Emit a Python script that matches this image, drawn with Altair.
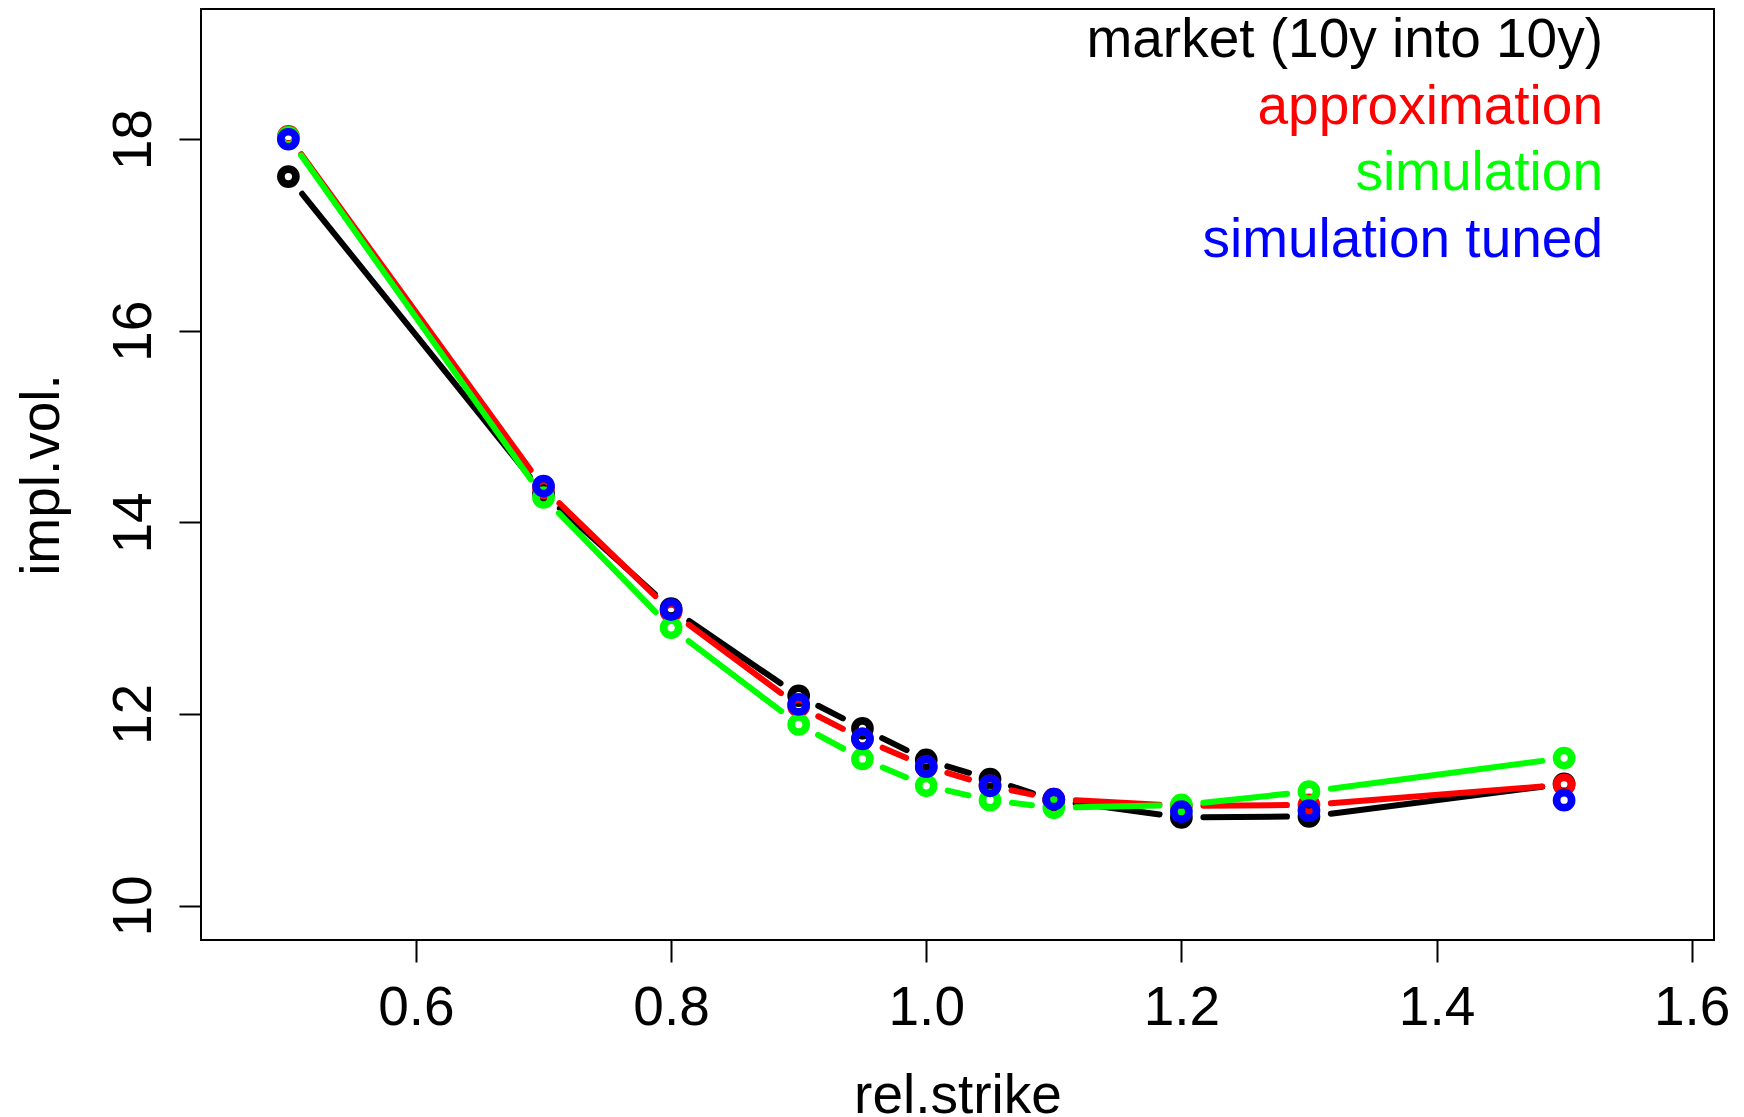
import math
import altair as alt
import pandas as pd

# ---- data ----
strike = [0.5, 0.7, 0.8, 0.9, 0.95, 1.0, 1.05, 1.1, 1.2, 1.3, 1.5]
market = [17.61, 14.30, 13.10, 12.19, 11.85, 11.52, 11.32, 11.10, 10.92, 10.93, 11.27]
approximation = [18.03, 14.36, 13.07, 12.08, 11.74, 11.45, 11.25, 11.11, 11.04, 11.05, 11.26]
simulation = [18.02, 14.26, 12.90, 11.89, 11.53, 11.25, 11.10, 11.02, 11.05, 11.19, 11.54]
simulation_tuned = [18.00, 14.38, 13.09, 12.10, 11.74, 11.45, 11.25, 11.11, 10.98, 10.99, 11.10]

series_names = ["market (10y into 10y)", "approximation", "simulation", "simulation tuned"]
series_colors = ["#000000", "#FF0000", "#00FF00", "#0000FF"]
series_values = [market, approximation, simulation, simulation_tuned]
series_has_line = [True, True, True, False]

x_ticks = [0.6, 0.8, 1.0, 1.2, 1.4, 1.6]
y_ticks = [10, 12, 14, 16, 18]

# ---- layout ----
W, H = 1513, 931
XD = [0.4315, 1.6175]
YD = [9.64, 19.36]
GAP = 22  # px gap between a point and its connecting segments (R type="b")
FONT = "Liberation Sans"
FS = 55

kx = W / (XD[1] - XD[0])
ky = H / (YD[1] - YD[0])


def gapped_segments(xs, ys):
    rows = []
    for i in range(len(xs) - 1):
        x0, y0, x1, y1 = xs[i], ys[i], xs[i + 1], ys[i + 1]
        d = math.hypot((x1 - x0) * kx, (y1 - y0) * ky)
        f = GAP / d
        if 2 * f < 1:
            rows.append(dict(x=x0 + f * (x1 - x0), y=y0 + f * (y1 - y0),
                             x2=x1 - f * (x1 - x0), y2=y1 - f * (y1 - y0)))
    return pd.DataFrame(rows)


xscale = alt.Scale(domain=XD, nice=False, zero=False)
yscale = alt.Scale(domain=YD, nice=False, zero=False)

xaxis = alt.Axis(values=x_ticks, format=".1f", title="rel.strike", grid=False, domain=False,
                 tickSize=22, tickWidth=2, tickColor="black",
                 labelFontSize=FS, labelFont=FONT, labelColor="black",
                 labelPadding=62, labelBaseline="alphabetic", labelFlush=False, labelOverlap=False,
                 titleFontSize=FS, titleFont=FONT, titleFontWeight="normal", titleColor="black",
                 titleX=W / 2, titleY=172, titleAlign="center", titleBaseline="alphabetic")
yaxis = alt.Axis(values=y_ticks, format="d", title="impl.vol.", grid=False, domain=False,
                 tickSize=22, tickWidth=2, tickColor="black",
                 labelFontSize=FS, labelFont=FONT, labelColor="black",
                 labelAngle=270, labelAlign="center", labelBaseline="alphabetic", labelPadding=29,
                 labelFlush=False, labelOverlap=False,
                 titleFontSize=FS, titleFont=FONT, titleFontWeight="normal", titleColor="black",
                 titleAngle=270, titleX=-143, titleY=H / 2, titleAlign="center",
                 titleBaseline="alphabetic")

layers = []
for name, color, vals, has_line in zip(series_names, series_colors, series_values, series_has_line):
    if has_line:
        seg = gapped_segments(strike, vals)
        layers.append(
            alt.Chart(seg).mark_rule(color=color, strokeWidth=6, strokeCap="round").encode(
                x=alt.X("x:Q", scale=xscale, axis=xaxis),
                y=alt.Y("y:Q", scale=yscale, axis=yaxis),
                x2="x2:Q",
                y2="y2:Q",
            )
        )
    pts = pd.DataFrame({"strike": strike, "vol": vals})
    layers.append(
        alt.Chart(pts).mark_point(shape="circle", filled=False, size=225, strokeWidth=7.7,
                                  color=color, opacity=1).encode(
            x=alt.X("strike:Q", scale=xscale, axis=xaxis),
            y=alt.Y("vol:Q", scale=yscale, axis=yaxis),
        )
    )

# legend (text only, right aligned, coloured like R's legend with text.col)
legend_x = 1402
legend_y0 = 48
legend_step = 66.7
for i, (name, color) in enumerate(zip(series_names, series_colors)):
    layers.append(
        alt.Chart(pd.DataFrame({"label": [name]})).mark_text(
            align="right", baseline="alphabetic", fontSize=FS, font=FONT, color=color
        ).encode(
            text="label:N",
            x=alt.value(legend_x),
            y=alt.value(legend_y0 + i * legend_step),
        )
    )

chart = alt.layer(*layers).properties(
    width=W, height=H,
    autosize=alt.AutoSizeParams(type="none"),
    padding={"left": 201, "top": 9, "right": 30, "bottom": 177},
    background="white",
).configure(font=FONT).configure_view(stroke="black", strokeWidth=2)

chart.save("out.html", embed_options={"renderer": "svg", "actions": False})
